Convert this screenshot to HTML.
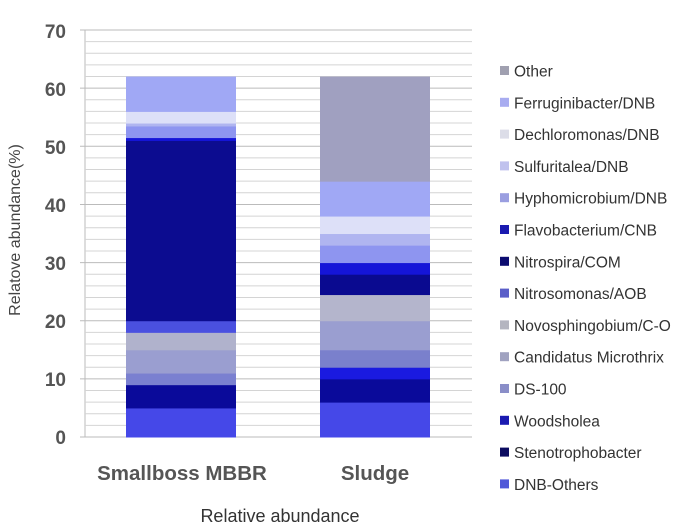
<!DOCTYPE html>
<html><head><meta charset="utf-8"><style>
body{margin:0;background:#fff;width:700px;height:526px;overflow:hidden}
svg{display:block}
text{font-family:"Liberation Sans",sans-serif}
</style></head><body>
<svg width="700" height="526" viewBox="0 0 700 526">
<g stroke="#cfcfcf" stroke-width="1">
<line x1="80" y1="437" x2="472" y2="437" stroke="#bbb"/>
<line x1="85" y1="30" x2="85" y2="437" stroke="#bbb"/>
</g>
<g id="grid" stroke="#d0d0d0" stroke-width="1"></g>
<g id="bars"></g>
<g font-size="19" font-weight="bold" fill="#555" text-anchor="end">
<text x="66" y="444">0</text><text x="66" y="386">10</text><text x="66" y="328">20</text>
<text x="66" y="270">30</text><text x="66" y="212">40</text><text x="66" y="154">50</text>
<text x="66" y="96">60</text><text x="66" y="38">70</text>
</g>
<text transform="translate(20,230) rotate(-90)" font-size="16" fill="#444" text-anchor="middle">Relatove abundance(%)</text>
<text x="182" y="480" font-size="20.5" font-weight="bold" fill="#555" text-anchor="middle">Smallboss MBBR</text>
<text x="375" y="480" font-size="20.5" font-weight="bold" fill="#555" text-anchor="middle">Sludge</text>
<text x="280" y="522" font-size="18" fill="#333" text-anchor="middle">Relative abundance</text>
<g id="leg" font-size="15.5" fill="#333"></g>
</svg>
<script>
var ns="http://www.w3.org/2000/svg";
function el(p,t,a){var e=document.createElementNS(ns,t);for(var k in a)e.setAttribute(k,a[k]);p.appendChild(e);return e;}
var g=document.getElementById("grid");
for(var v=2;v<=70;v+=2){var y=437-v*5.814;el(g,"line",{x1:v%10==0?80:85,y1:y,x2:472,y2:y,stroke:v%10==0?"#bbb":"#d4d4d4"});}
var b=document.getElementById("bars");
function bar(x,segs){var s=0;segs.forEach(function(q){var y1=437-(s+q[0])*5.814,y0=437-s*5.814;el(b,"rect",{x:x,y:y1,width:110,height:y0-y1+0.5,fill:q[1]});s+=q[0];});}
bar(126,[[5,"#4548e8"],[4,"#0a0a9a"],[2,"#7a80d0"],[4,"#9a9ed0"],[3,"#b0b2cc"],[2,"#4a50e0"],[31,"#0c0c90"],[0.5,"#1515d8"],[2,"#8e95f0"],[0.5,"#b0b5f0"],[2,"#dde0f8"],[6,"#a0a8f5"]]);
bar(320,[[6,"#4548e8"],[4,"#0a0a9a"],[2,"#1a1ae0"],[3,"#7a80cc"],[5,"#9a9ed0"],[4.5,"#b4b5cc"],[3.5,"#0a0a90"],[2,"#1515d8"],[3,"#8e95f0"],[2,"#b0b5f0"],[3,"#dde0f8"],[6,"#a0a8f5"],[18,"#a0a0c0"]]);
var L=[["Other","#a0a0b0"],["Ferruginibacter/DNB","#a8acf0"],["Dechloromonas/DNB","#dcdde8"],["Sulfuritalea/DNB","#c0c2ee"],["Hyphomicrobium/DNB","#9a9ee0"],["Flavobacterium/CNB","#1a1ab0"],["Nitrospira/COM","#0c0c70"],["Nitrosomonas/AOB","#5a5ec8"],["Novosphingobium/C-O","#b4b5c0"],["Candidatus  Microthrix","#a0a2c0"],["DS-100","#8a8ec8"],["Woodsholea","#1a1ab0"],["Stenotrophobacter","#0c0c60"],["DNB-Others","#5058d8"]];
var lg=document.getElementById("leg");
L.forEach(function(q,i){var y=71+i*31.8;el(lg,"rect",{x:500,y:y-5,width:9,height:9,fill:q[1]});var t=el(lg,"text",{x:514,y:y+5.5});t.setAttribute("xml:space","preserve");t.textContent=q[0];});
</script>
</body></html>
